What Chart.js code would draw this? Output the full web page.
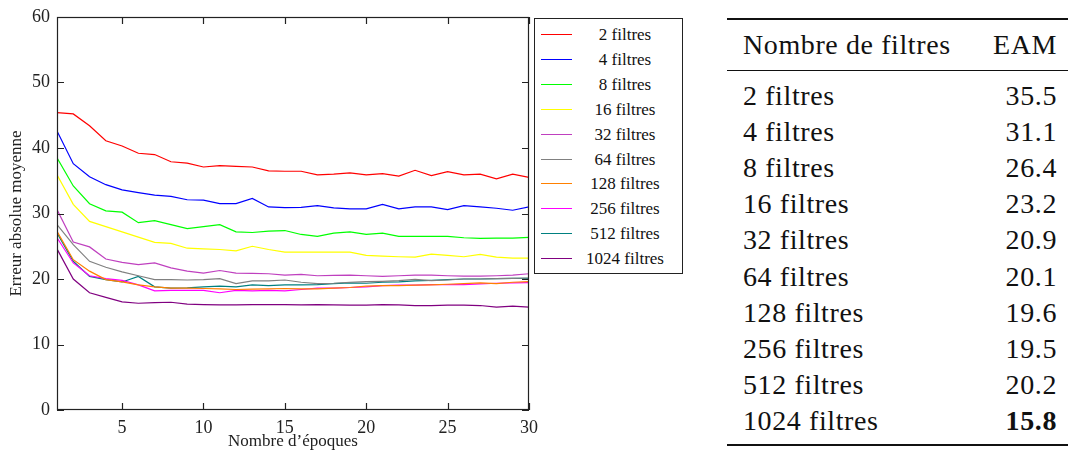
<!DOCTYPE html>
<html>
<head>
<meta charset="utf-8">
<script src="https://cdn.jsdelivr.net/npm/chart.js@4.4.1/dist/chart.umd.min.js"></script>
<style>
  body { margin: 0; background: #fff; width: 1068px; height: 453px; position: relative; overflow: hidden;
         font-family: 'Liberation Serif', 'DejaVu Serif', serif; color: #111; }
  #wrap { position: absolute; left: 0; top: 0; width: 548px; height: 453px; }
  #legend { position: absolute; left: 534px; top: 18px; width: 147px; height: 254px; border: 1px solid #222; background: #fff; }
  .lrow { position: absolute; left: 0; width: 147px; height: 24px; }
  .lrow .sample { position: absolute; left: 6px; top: 11px; width: 31px; height: 0; border-top: 1.3px solid; }
  .lrow .txt { position: absolute; left: 38px; width: 104px; top: 0; line-height: 24px; text-align: center; font-size: 17px;
               font-family: 'Liberation Serif', 'DejaVu Serif', serif; }
  #table { position: absolute; left: 727px; top: 18px; width: 341px; height: 428px; }
  #table .rule { position: absolute; left: 0; width: 341px; background: #111; }
  #table .cell { position: absolute; font-size: 28px; line-height: 36px; white-space: nowrap; letter-spacing: 0.6px;
                 font-family: 'Liberation Serif', 'DejaVu Serif', serif; }
</style>
</head>
<body>
<div id="wrap"><canvas id="chart"></canvas></div>
<div id="legend"></div>
<div id="table"></div>
<script>
const epochs = [1, 2, 3, 4, 5, 6, 7, 8, 9, 10, 11, 12, 13, 14, 15, 16, 17, 18, 19, 20, 21, 22, 23, 24, 25, 26, 27, 28, 29, 30];

const labels = ['2 filtres', '4 filtres', '8 filtres', '16 filtres', '32 filtres', '64 filtres',
  '128 filtres', '256 filtres', '512 filtres', '1024 filtres'];

const lineColors = ['#ff0000', '#0000ff', '#00ff00', '#ffff00', '#bf40bf', '#808080',
  '#ff8000', '#ff00ff', '#008080', '#800080'];

// erreur absolue moyenne par époque
const f2 = [45.4, 45.2, 43.4, 41.1, 40.3, 39.2, 39.0, 37.9, 37.7, 37.1, 37.3, 37.2, 37.1, 36.5, 36.45,
  36.45, 35.9, 36.0, 36.2, 35.9, 36.1, 35.7, 36.6, 35.8, 36.4, 35.9, 36.0, 35.3, 36.0, 35.5];
const f4 = [42.6, 37.6, 35.6, 34.4, 33.6, 33.2, 32.8, 32.6, 32.1, 32.05, 31.5, 31.5, 32.3, 31.0, 30.9,
  30.95, 31.2, 30.85, 30.7, 30.7, 31.4, 30.7, 31.0, 31.0, 30.6, 31.2, 31.0, 30.8, 30.5, 31.0];
const f8 = [38.5, 34.2, 31.5, 30.4, 30.2, 28.6, 28.9, 28.3, 27.7, 28.0, 28.3, 27.2, 27.1, 27.3, 27.4,
  26.8, 26.5, 27.0, 27.2, 26.8, 27.0, 26.5, 26.5, 26.5, 26.5, 26.3, 26.2, 26.25, 26.25, 26.35];
const f16 = [35.9, 31.4, 28.8, 28.0, 27.2, 26.4, 25.6, 25.45, 24.7, 24.6, 24.5, 24.3, 25.0, 24.5, 24.1,
  24.1, 24.1, 24.1, 24.1, 23.6, 23.5, 23.4, 23.35, 23.8, 23.6, 23.4, 23.75, 23.35, 23.2, 23.2];
const f32 = [30.6, 25.65, 24.9, 23.05, 22.55, 22.2, 22.45, 21.7, 21.2, 20.9, 21.3, 20.9, 20.85, 20.8, 20.6,
  20.7, 20.5, 20.55, 20.6, 20.5, 20.4, 20.5, 20.6, 20.6, 20.5, 20.45, 20.45, 20.5, 20.6, 20.8];
const f64 = [28.3, 25.25, 22.7, 21.8, 21.1, 20.5, 19.9, 19.9, 19.85, 19.9, 20.05, 19.3, 19.7, 19.7, 19.85,
  19.5, 19.3, 19.35, 19.5, 19.6, 19.65, 19.75, 19.95, 19.75, 19.85, 20.0, 20.0, 20.05, 20.1, 20.15];
const f128 = [27.3, 22.95, 21.2, 19.9, 19.55, 19.1, 18.8, 18.6, 18.6, 18.55, 18.5, 18.4, 18.45, 18.5, 18.55,
  18.5, 18.5, 18.6, 18.7, 18.9, 19.0, 19.0, 19.05, 19.1, 19.2, 19.3, 19.4, 19.3, 19.5, 19.6];
const f256 = [26.3, 22.45, 20.5, 20.05, 19.8, 19.1, 18.2, 18.25, 18.25, 18.25, 17.9, 18.25, 18.2, 18.25, 18.2,
  18.4, 18.6, 18.6, 18.7, 18.8, 19.0, 19.05, 19.05, 19.15, 19.15, 19.15, 19.25, 19.35, 19.4, 19.45];
const f512 = [27.0, 22.7, 20.4, 19.9, 19.55, 20.4, 18.8, 18.6, 18.65, 18.8, 18.9, 18.8, 19.1, 19.0, 19.1,
  19.1, 19.15, 19.3, 19.4, 19.35, 19.5, 19.55, 19.7, 19.8, 19.9, 20.0, 20.0, 20.05, 20.1, 20.1];
const f1024 = [24.6, 20.0, 17.9, 17.2, 16.5, 16.3, 16.4, 16.45, 16.15, 16.1, 16.05, 16.05, 16.1, 16.1, 16.1,
  16.05, 16.1, 16.05, 16.0, 16.0, 16.1, 16.05, 15.95, 15.95, 16.0, 16.0, 15.95, 15.7, 15.85, 15.7];

const xTicks = [5, 10, 15, 20, 25, 30];
const yTicks = [0, 10, 20, 30, 40, 50, 60];

// valeurs du tableau (EAM finale)
const eamValues = ['35.5', '31.1', '26.4', '23.2', '20.9', '20.1', '19.6', '19.5', '20.2', '15.8'];
const bestIndex = 9;

const allSeries = [f2, f4, f8, f16, f32, f64, f128, f256, f512, f1024];

const serif = "'Liberation Serif', 'DejaVu Serif', serif";

// cadre et graduations vers l'intérieur, façon pgfplots
const framePlugin = {
  id: 'frame',
  afterDatasetsDraw(chart) {
    const { ctx, chartArea: a, scales: { x, y } } = chart;
    ctx.save();
    ctx.strokeStyle = '#222';
    ctx.lineWidth = 1.2;
    ctx.beginPath();
    x.ticks.forEach((t) => {
      const px = Math.round(x.getPixelForValue(t.value)) + 0.5;
      ctx.moveTo(px, a.bottom); ctx.lineTo(px, a.bottom - 7);
      ctx.moveTo(px, a.top); ctx.lineTo(px, a.top + 7);
    });
    y.ticks.forEach((t) => {
      const py = Math.round(y.getPixelForValue(t.value)) + 0.5;
      ctx.moveTo(a.left, py); ctx.lineTo(a.left + 7, py);
      ctx.moveTo(a.right, py); ctx.lineTo(a.right - 7, py);
    });
    ctx.stroke();
    ctx.strokeRect(a.left + 0.5, a.top + 0.5, a.width - 1, a.height - 1);
    ctx.restore();
  },
};

new Chart(document.getElementById('chart'), {
  type: 'line',
  data: {
    datasets: allSeries.map((vals, i) => ({
      label: labels[i],
      data: vals.map((v, j) => ({ x: epochs[j], y: v })),
      borderColor: lineColors[i],
      borderWidth: 1.2,
      pointRadius: 0,
      tension: 0,
      fill: false,
    })),
  },
  options: {
    responsive: true,
    maintainAspectRatio: false,
    animation: false,
    layout: { padding: { top: 17, right: 19, bottom: 0, left: 0 } },
    plugins: { legend: { display: false }, tooltip: { enabled: false } },
    scales: {
      x: {
        type: 'linear',
        min: 1,
        max: 30,
        grid: { display: false, drawTicks: false },
        border: { display: false },
        afterBuildTicks: (s) => { s.ticks = xTicks.map((v) => ({ value: v })); },
        afterFit: (s) => { s.height = 43; s.paddingRight = 0; s.paddingLeft = 0; },
        ticks: { padding: 7, color: '#222', font: { family: serif, size: 18 } },
        title: {
          display: true, text: 'Nombre d’époques', color: '#222',
          padding: { top: 0, bottom: 1 },
          font: { family: serif, size: 17 },
        },
      },
      y: {
        min: 0,
        max: 60,
        grid: { display: false, drawTicks: false },
        border: { display: false },
        afterBuildTicks: (s) => { s.ticks = yTicks.map((v) => ({ value: v })); },
        afterFit: (s) => { s.width = 57; s.paddingTop = 0; s.paddingBottom = 0; },
        ticks: { padding: 7, color: '#222', font: { family: serif, size: 18 } },
        title: {
          display: true, text: 'Erreur absolue moyenne', color: '#222',
          padding: { top: 6, bottom: 0 },
          font: { family: serif, size: 17 },
        },
      },
    },
  },
  plugins: [framePlugin],
});

// légende
const legend = document.getElementById('legend');
labels.forEach((name, i) => {
  const row = document.createElement('div');
  row.className = 'lrow';
  row.style.top = (4 + 24.9 * i) + 'px';
  row.innerHTML = `<div class="sample" style="border-color:${lineColors[i]}"></div><div class="txt">${name}</div>`;
  legend.appendChild(row);
});

// tableau
const table = document.getElementById('table');
function addRule(top, h) {
  const r = document.createElement('div');
  r.className = 'rule';
  r.style.top = top + 'px';
  r.style.height = h + 'px';
  table.appendChild(r);
}
function addCell(text, top, side, bold) {
  const c = document.createElement('div');
  c.className = 'cell';
  c.textContent = text;
  c.style.top = top + 'px';
  if (side === 'left') c.style.left = '16px';
  else c.style.right = '11px';
  if (bold) c.style.fontWeight = 'bold';
  table.appendChild(c);
}
addRule(0, 2);
addCell('Nombre de filtres', 9, 'left');
addCell('EAM', 9, 'right');
addRule(52, 1.3);
labels.forEach((name, i) => {
  const top = 60 + 36.1 * i;
  addCell(name, top, 'left');
  addCell(eamValues[i], top, 'right', i === bestIndex);
});
addRule(426, 2);
</script>
</body>
</html>
